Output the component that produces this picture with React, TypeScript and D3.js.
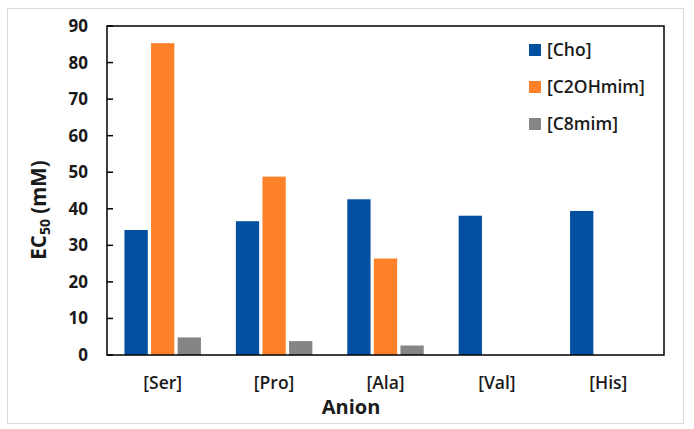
import React from 'react';
import * as d3 from 'd3';

const anions = ['[Ser]', '[Pro]', '[Ala]', '[Val]', '[His]'];
const seriesNames = ['[Cho]', '[C2OHmim]', '[C8mim]'];
const seriesColors = ['#0350a0', '#fd8128', '#858585'];
const cho = [34.2, 36.6, 42.6, 38.1, 39.4];
const c2ohmim = [85.3, 48.8, 26.4, null, null];
const c8mim = [4.8, 3.8, 2.6, null, null];
const yTicks = [0, 10, 20, 30, 40, 50, 60, 70, 80, 90];

const W = 694;
const H = 429;
const m = { left: 107, top: 26, right: 664, bottom: 355 };
const font = '"Open Sans", "Noto Sans", sans-serif';

const App: React.FC = () => {
  const values = [cho, c2ohmim, c8mim];

  const x = d3.scaleBand<string>()
    .domain(anions)
    .range([m.left, m.right]);

  // bars within a category: ~23px wide, ~3px apart
  const inner = d3.scaleBand<number>()
    .domain([0, 1, 2])
    .range([0, x.bandwidth()])
    .paddingInner(0.124)
    .paddingOuter(0.657);

  const y = d3.scaleLinear().domain([0, 90]).range([m.bottom, m.top]);

  return (
    <div style={{ position: 'fixed', left: 0, top: 0 }}>
      <svg width={W} height={H} style={{ display: 'block', background: '#fff' }}>
        <rect x={7.5} y={8.5} width={676} height={415} fill="#fff" stroke="#d9d9d9" strokeWidth={1} />

        {values.map((vals, si) => (
          <g key={si} fill={seriesColors[si]}>
            {vals.map((v, ci) => v == null ? null : (
              <rect
                key={ci}
                x={(x(anions[ci]) || 0) + (inner(si) || 0)}
                y={y(v)}
                width={inner.bandwidth()}
                height={y(0) - y(v)}
              />
            ))}
          </g>
        ))}

        <rect x={m.left} y={m.top} width={m.right - m.left} height={m.bottom - m.top}
          fill="none" stroke="#000" strokeWidth={1.5} />

        {yTicks.map(t => (
          <g key={t}>
            <line x1={m.left} x2={m.left + 6} y1={y(t)} y2={y(t)} stroke="#000" strokeWidth={1.5} />
            <text x={88} y={y(t)} dy="0.35em" textAnchor="end"
              fontFamily={font} fontSize={17} fontWeight={700} fill="#1a1a1a">{t}</text>
          </g>
        ))}

        {anions.map(a => (
          <text key={a} x={(x(a) || 0) + x.bandwidth() / 2} y={389} textAnchor="middle"
            fontFamily={font} fontSize={17.5} fontWeight={600} fill="#1a1a1a">{a}</text>
        ))}

        <text x={351} y={414} textAnchor="middle" fontFamily={font} fontSize={20} fontWeight={700} fill="#1a1a1a">Anion</text>

        <text transform="translate(46,210) rotate(-90)" textAnchor="middle"
          fontFamily={font} fontSize={20.5} fontWeight={700} fill="#1a1a1a">
          EC<tspan fontSize={14} dy={4}>50</tspan><tspan dy={-4}> (mM)</tspan>
        </text>

        {seriesNames.map((s, i) => (
          <g key={s} transform={`translate(529,${50 + i * 37})`}>
            <rect x={0} y={-6} width={12} height={12} fill={seriesColors[i]} />
            <text x={18} y={0} dy="0.35em" fontFamily={font} fontSize={17.5} fontWeight={600} fill="#1a1a1a">{s}</text>
          </g>
        ))}
      </svg>
    </div>
  );
};

export default App;
